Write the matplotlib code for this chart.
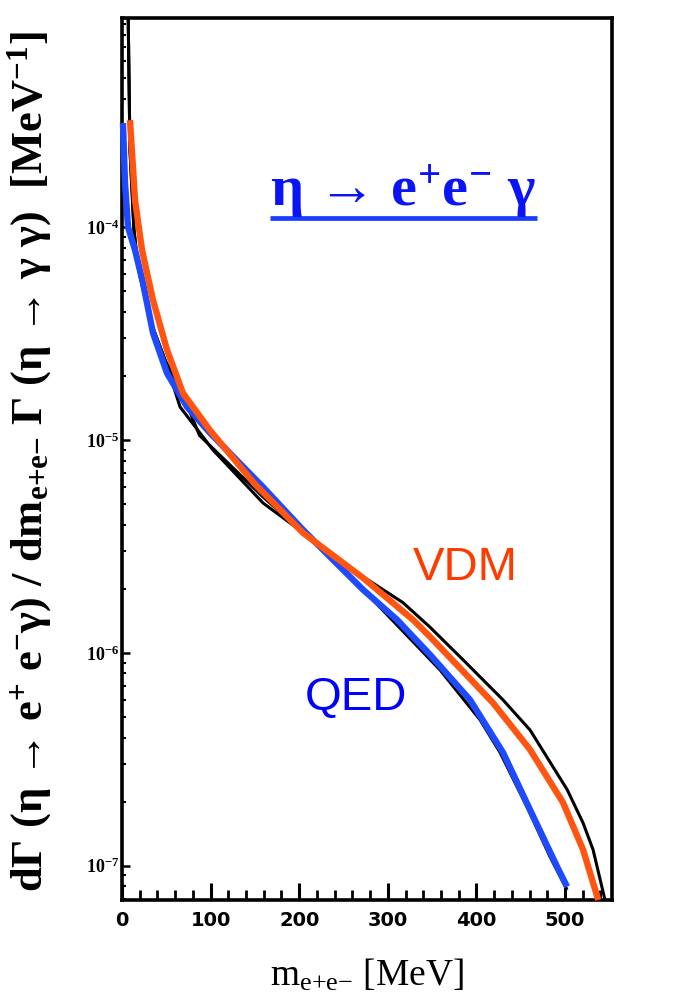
import numpy as np
import matplotlib
matplotlib.use("Agg")
import matplotlib.pyplot as plt
from matplotlib.ticker import FixedLocator, LogLocator, NullFormatter, FixedFormatter
from matplotlib.lines import Line2D

plt.rcParams['mathtext.fontset'] = 'custom'
plt.rcParams['mathtext.rm'] = 'Liberation Serif'
plt.rcParams['mathtext.bf'] = 'Liberation Serif:bold'
plt.rcParams['mathtext.it'] = 'Liberation Serif:italic'

# Invariant mass of the lepton pair [MeV] and normalised differential rate [MeV^-1]
m_vdm = [9.0, 14.7, 22.6, 35.0, 50.8, 68.8, 99.3, 150.0, 204.3, 272.0, 328.4, 347.6, 380.0, 418.7, 460.5,
         497.7, 520.3, 537.5]
r_vdm = [3.18e-4, 1.34e-4, 7.80e-5, 4.54e-5, 2.65e-5, 1.66e-5, 1.11e-5, 6.2e-6, 3.66e-6, 2.25e-6, 1.43e-6,
         1.19e-6, 8.6e-7, 5.82e-7, 3.51e-7, 1.98e-7, 1.19e-7, 6.9e-8]

m_qed = [1.1, 3.4, 6.8, 14.7, 23.7, 35.0, 50.8, 73.4, 99.3, 159.1, 204.3, 272.0, 310.4, 347.6, 392.8, 430.0,
         460.5, 491.0, 502.3]
r_qed = [3.08e-4, 1.61e-4, 1.00e-4, 7.80e-5, 5.46e-5, 3.18e-5, 2.06e-5, 1.43e-5, 1.08e-5, 6.01e-6, 3.78e-6,
         1.98e-6, 1.43e-6, 9.8e-7, 6.01e-7, 3.40e-7, 1.83e-7, 9.89e-8, 7.96e-8]

# Printed reference curves (upper: form-factor model, lower: point-like)
m_ref_up = [6.8, 9.0, 13.5, 18.1, 31.6, 48.5, 71.1, 87.5, 159.1, 226.9, 272.0, 317.2, 347.6, 384.9, 430.0,
            460.5, 502.3, 520.3, 531.6, 545.1]
r_ref_up = [1.1e-3, 2.30e-4, 9.7e-5, 6.49e-5, 3.66e-5, 2.38e-5, 1.54e-5, 1.05e-5, 5.40e-6, 3.05e-6, 2.28e-6,
            1.72e-6, 1.32e-6, 9.27e-7, 6.01e-7, 4.34e-7, 2.28e-7, 1.59e-7, 1.19e-7, 6.9e-8]

m_ref_lo = [6.8, 9.0, 13.5, 18.1, 31.6, 48.5, 65.5, 102.7, 159.1, 215.6, 272.0, 310.4, 358.9, 404.1, 426.7,
            457.1, 483.1, 502.3]
r_ref_lo = [1.1e-3, 2.30e-4, 9.7e-5, 6.49e-5, 3.66e-5, 2.38e-5, 1.43e-5, 8.97e-6, 5.06e-6, 3.39e-6, 1.98e-6,
            1.35e-6, 8.31e-7, 4.84e-7, 3.40e-7, 1.89e-7, 1.10e-7, 7.7e-8]

x_major = [0, 100, 200, 300, 400, 500]
x_labels = ['0', '100', '200', '300', '400', '500']
y_major = [1e-7, 1e-6, 1e-5, 1e-4]
y_labels = [r'$\mathbf{10^{-7}}$', r'$\mathbf{10^{-6}}$', r'$\mathbf{10^{-5}}$', r'$\mathbf{10^{-4}}$']

W, H = 693, 1008
fig = plt.figure(figsize=(W / 100, H / 100), dpi=100)
ax = fig.add_axes([122 / W, 1 - 900 / H, (612 - 122) / W, (900 - 18) / H])

ax.set_yscale('log')
ax.set_xlim(0, 553)
ax.set_ylim(6.9e-8, 9.6e-4)

# reference curves underneath, model curves on top
ax.plot(m_ref_up, r_ref_up, color='black', lw=2.2, solid_capstyle='butt', solid_joinstyle='round', zorder=2)
ax.plot(m_ref_lo, r_ref_lo, color='black', lw=2.2, solid_capstyle='butt', solid_joinstyle='round', zorder=2)
ax.plot(m_qed, r_qed, color='#1f4bff', lw=4.6, solid_capstyle='butt', solid_joinstyle='round', zorder=3,
        clip_on=False)
ax.plot(m_vdm, r_vdm, color='#ff5511', lw=4.6, solid_capstyle='butt', solid_joinstyle='round', zorder=4,
        clip_on=False)

for s in ax.spines.values():
    s.set_linewidth(2.6)
    s.set_color('black')

ax.xaxis.set_major_locator(FixedLocator(x_major))
ax.xaxis.set_major_formatter(FixedFormatter(x_labels))
ax.xaxis.set_minor_locator(FixedLocator([v for v in range(20, 560, 20) if v % 100 != 0]))
ax.tick_params(axis='x', which='major', direction='in', length=12, width=2.2, pad=8, labelsize=14)
ax.tick_params(axis='x', which='minor', direction='in', length=7, width=2.0)
for lab in ax.get_xticklabels():
    lab.set_fontweight('bold')

ax.yaxis.set_major_locator(FixedLocator(y_major))
ax.yaxis.set_major_formatter(FixedFormatter(y_labels))
ax.yaxis.set_minor_locator(LogLocator(base=10, subs=np.arange(2, 10)))
ax.yaxis.set_minor_formatter(NullFormatter())
ax.tick_params(axis='y', which='major', direction='in', length=6, width=1.8, pad=2, labelsize=13)
ax.tick_params(axis='y', which='minor', direction='in', length=3, width=1.5)
ax.tick_params(top=False, right=False)

# title with underline
fig.text(270 / W, 1 - 206 / H, 'η → e$^{\\mathbf{+}}$e$^{\\mathbf{-}}$ γ',
         ha='left', va='baseline', fontsize=42, fontweight='bold', family='Liberation Serif',
         color='#0a14f5')
fig.add_artist(Line2D([270 / W, 537 / W], [1 - 218 / H, 1 - 218 / H], color='#1a3cff', lw=3.4,
                      solid_capstyle='butt'))

fig.text(413 / W, 1 - 580 / H, 'VDM', ha='left', va='baseline', fontsize=34, family='Liberation Sans',
         color='#ff3c00')
fig.text(305 / W, 1 - 710 / H, 'QED', ha='left', va='baseline', fontsize=34, family='Liberation Sans',
         color='#0000ff')

fig.text(30 / W, 1 - 462 / H,
         'dΓ (η → e$^{\\mathbf{+}}$ e$^{\\mathbf{-}}$γ) / dm$_{\\mathbf{e{+}e{-}}}$ Γ (η → γ γ)  [MeV$^{\\mathbf{-1}}$]',
         rotation=90, ha='center', va='center', fontsize=32, fontweight='bold',
         family='Liberation Serif')

fig.text(367 / W, 1 - 975 / H, 'm$_{\\mathrm{e{+}e{-}}}$ [MeV]', ha='center', va='center', fontsize=27,
         family='Liberation Serif')

fig.savefig('out.png', dpi=100)
